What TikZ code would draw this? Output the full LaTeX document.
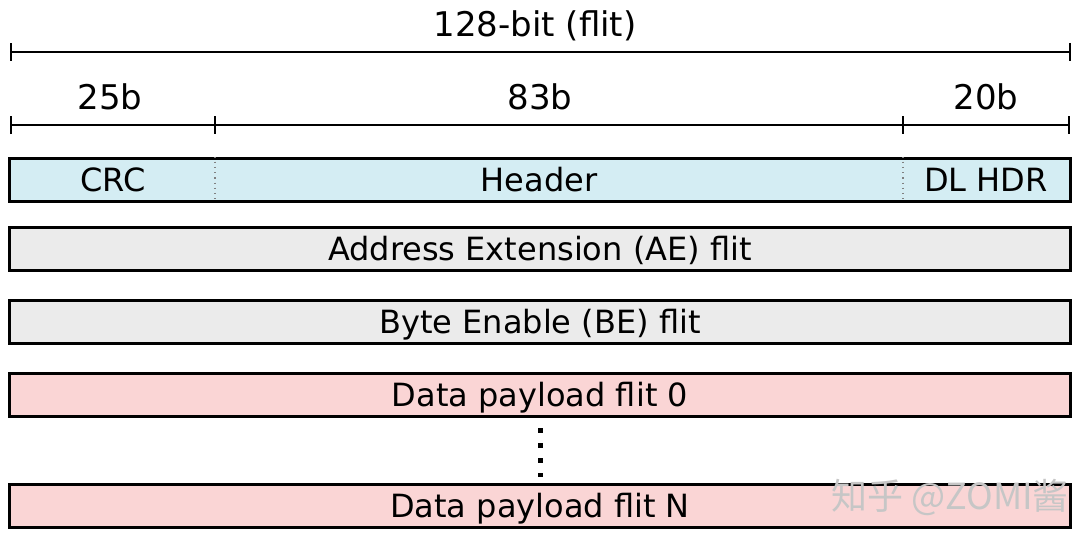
\documentclass[tikz,border=0pt]{standalone}
\usepackage{fontspec}
\setmainfont{DejaVu Sans}
\newfontfamily\cjk{Noto Sans CJK SC}
\usetikzlibrary{arrows.meta}
\definecolor{hdrblue}{RGB}{212,237,243}
\definecolor{extgray}{RGB}{235,235,235}
\definecolor{datapink}{RGB}{250,213,213}
\begin{document}
\begin{tikzpicture}[x=0.5pt, y=-0.5pt,
    dim/.style={line width=1pt, {Bar[width=9pt]}-{Bar[width=9pt]}},
    bits/.style={font=\fontsize{17}{20}\selectfont, anchor=base},
    flit/.style={draw, line width=1.5pt, minimum width=530.5pt, minimum height=21.5pt, inner sep=0pt,
      text height=11.6pt, text depth=0pt, font=\fontsize{16}{19}\selectfont},
    lbl/.style={inner sep=0pt, text height=11.6pt, text depth=0pt, font=\fontsize{16}{19}\selectfont},
    sep/.style={gray, line width=0.6pt, dotted}]
  \useasboundingbox (0,0) rectangle (1080,540);
  \coordinate (w0) at (9.5,52);
  \coordinate (w1) at (1071,52);
  \coordinate (t0) at (9.5,125);
  \coordinate (t1) at (215,125);
  \coordinate (t2) at (903,125);
  \coordinate (t3) at (1070,125);
  \draw[dim] (w0) -- (w1);
  \node[bits] (width) at (535,37) {128-bit (flit)};
  \draw[dim] (t0) -- (t3);
  \draw[line width=1pt] ([yshift=4.5pt]t1) -- ([yshift=-4.5pt]t1);
  \draw[line width=1pt] ([yshift=4.5pt]t2) -- ([yshift=-4.5pt]t2);
  \node[bits] (b25) at (110,110) {25b};
  \node[bits] (b83) at (540,110) {83b};
  \node[bits] (b20) at (986,110) {20b};
  \node[flit, fill=hdrblue] (r1) at (540,179.5) {};
  \draw[sep] (t1 |- r1.north) -- (t1 |- r1.south);
  \draw[sep] (t2 |- r1.north) -- (t2 |- r1.south);
  \node[lbl] (crc) at (113,179.5) {CRC};
  \node[lbl] (hdr) at (539,179.5) {Header};
  \node[lbl] (dlhdr) at (986,179.5) {DL HDR};
  \node[flit, fill=extgray] (r2) at (540,249) {Address Extension (AE) flit};
  \node[flit, fill=extgray] (r3) at (540,322) {Byte Enable (BE) flit};
  \node[flit, fill=datapink] (r4) at (540,395) {Data payload flit 0};
  \node[flit, fill=datapink] (r5) at (540,505.5) {Data payload flit N};
  \draw[line width=2.5pt, dash pattern=on 2.5pt off 5pt] ([yshift=-5pt]r4.south) -- ([yshift=3pt]r5.north);
  \node[text=gray!45, font=\cjk\fontsize{18}{20}\selectfont] (mark) at (950,497) {知乎 @ZOMI酱};
\end{tikzpicture}
\end{document}
